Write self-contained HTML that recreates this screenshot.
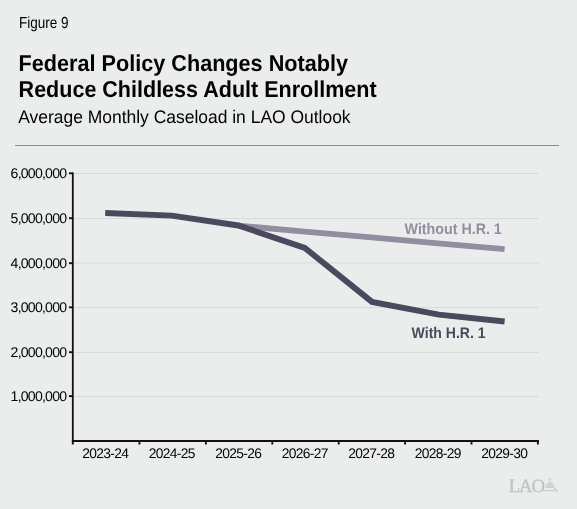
<!DOCTYPE html>
<html><head><meta charset="utf-8">
<style>
html,body{margin:0;padding:0;}
body{width:577px;height:509px;background:#ebedec;overflow:hidden;position:relative;font-family:"Liberation Sans",sans-serif;}
.t{position:absolute;white-space:nowrap;color:#000;}
</style></head><body>
<svg width="577" height="509" viewBox="0 0 577 509" style="position:absolute;left:0;top:0;will-change:transform" font-family="Liberation Sans, sans-serif" text-rendering="geometricPrecision">
  <text x="19" y="27.8" font-size="16" textLength="49.6" lengthAdjust="spacingAndGlyphs" fill="#000">Figure 9</text>
  <text x="18.6" y="70.8" font-size="23" textLength="329.4" lengthAdjust="spacingAndGlyphs" font-weight="bold" fill="#000">Federal Policy Changes Notably</text>
  <text x="18.6" y="96.8" font-size="23" textLength="358" lengthAdjust="spacingAndGlyphs" font-weight="bold" fill="#000">Reduce Childless Adult Enrollment</text>
  <text x="18.2" y="122.6" font-size="18.2" textLength="332.4" lengthAdjust="spacingAndGlyphs" fill="#000">Average Monthly Caseload in LAO Outlook</text>
  <rect x="15" y="145" width="544" height="1" fill="#8a8a8a"/>

  <g stroke="#d9dad9" stroke-width="1">
    <line x1="73" y1="173.5" x2="538.7" y2="173.5"/>
    <line x1="73" y1="218.5" x2="538.7" y2="218.5"/>
    <line x1="73" y1="263" x2="538.7" y2="263"/>
    <line x1="73" y1="307.5" x2="538.7" y2="307.5"/>
    <line x1="73" y1="352.5" x2="538.7" y2="352.5"/>
    <line x1="73" y1="396.5" x2="538.7" y2="396.5"/>
  </g>
  <g font-size="14.1" letter-spacing="-0.78" fill="#000" text-anchor="end" transform="translate(0.3,0.1)">
    <text x="66" y="178.4">6,000,000</text>
    <text x="66" y="223.3">5,000,000</text>
    <text x="66" y="268">4,000,000</text>
    <text x="66" y="312.4">3,000,000</text>
    <text x="66" y="357.3">2,000,000</text>
    <text x="66" y="401.2">1,000,000</text>
  </g>
  <g stroke="#111" stroke-width="1.9">
    <line x1="72.8" y1="172.5" x2="72.8" y2="442" stroke-width="1.8"/>
    <line x1="72" y1="441.1" x2="538.8" y2="441.1" stroke-width="2"/>
    <line x1="69" y1="173.3" x2="73" y2="173.3"/>
    <line x1="69" y1="218.2" x2="73" y2="218.2"/>
    <line x1="69" y1="263.2" x2="73" y2="263.2"/>
    <line x1="69" y1="307.3" x2="73" y2="307.3"/>
    <line x1="69" y1="352.2" x2="73" y2="352.2"/>
    <line x1="69" y1="396.1" x2="73" y2="396.1"/>
    <line x1="72.8" y1="440" x2="72.8" y2="444.5"/>
    <line x1="139.4" y1="440" x2="139.4" y2="444.5"/>
    <line x1="205.9" y1="440" x2="205.9" y2="444.5"/>
    <line x1="272.3" y1="440" x2="272.3" y2="444.5"/>
    <line x1="338.7" y1="440" x2="338.7" y2="444.5"/>
    <line x1="405.1" y1="440" x2="405.1" y2="444.5"/>
    <line x1="471.5" y1="440" x2="471.5" y2="444.5"/>
    <line x1="537.9" y1="440" x2="537.9" y2="444.5"/>
  </g>
  <g font-size="13.8" letter-spacing="-0.63" fill="#000" text-anchor="middle" transform="translate(-0.2,0)">
    <text x="105.5" y="457.6">2023-24</text>
    <text x="172" y="457.6">2024-25</text>
    <text x="238.5" y="457.6">2025-26</text>
    <text x="305" y="457.6">2026-27</text>
    <text x="371.5" y="457.6">2027-28</text>
    <text x="438" y="457.6">2028-29</text>
    <text x="504.5" y="457.6">2029-30</text>
  </g>
  <polyline fill="none" stroke="#938e9f" stroke-width="5.8" stroke-linejoin="miter" points="238.3,225.6 304.8,231.6 371.3,237.4 437.9,243.3 504.6,249.1"/>
  <polyline fill="none" stroke="#4a495e" stroke-width="5.9" stroke-linejoin="miter" points="105.2,213 171.7,215.6 238.3,225.5 304.8,247.9 372,301.9 438.8,314.7 504.6,321.5"/>
  <text x="404.6" y="233.9" font-size="15.4" textLength="97.2" lengthAdjust="spacingAndGlyphs" font-weight="bold" fill="#938e9f">Without H.R. 1</text>
  <text x="411.6" y="338" font-size="15.4" textLength="74" lengthAdjust="spacingAndGlyphs" font-weight="bold" fill="#4a495e">With H.R. 1</text>
  <text x="508.8" y="492.1" font-size="18.8" letter-spacing="-1.2" font-family="Liberation Serif, serif" fill="#c3c4c4" stroke="#c3c4c4" stroke-width="0.35">LAO</text>
  <path d="M547.8,482.4 Q550,480.8 552.2,482.4 Q554.2,484.4 554.6,487.8 L545.4,487.8 Q545.9,484.5 547.8,482.4 Z" fill="#d9dada"/>
  <g fill="#c9caca">
    <rect x="545.6" y="486.6" width="8.6" height="1.3"/>
    <rect x="546.8" y="484.2" width="6.6" height="0.9"/>
    <rect x="543.2" y="490.1" width="14.4" height="1.1"/>
    <path d="M553.9,487.2 L555.4,488.2 L558.2,491.2 L556.4,491.2 L553.6,488.6 Z"/>
  </g>
  <path d="M548.4,479.3 Q549.8,477.9 550.9,479.1 Q550.9,480.3 549.2,481.2" stroke="#c6c7c7" stroke-width="1" fill="none"/>
</svg>
</body></html>
